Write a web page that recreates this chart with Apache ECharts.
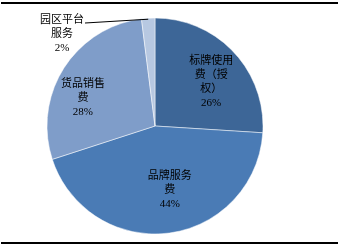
<!DOCTYPE html>
<html><head><meta charset="utf-8">
<script src="https://cdn.jsdelivr.net/npm/echarts@6/dist/echarts.min.js"></script>
<style>html,body{margin:0;padding:0;background:#fff}#c{width:345px;height:246px}</style>
</head><body><div id="c"></div>
<script>
var categories = ['标牌使用费（授权）', '品牌服务费', '货品销售费', '园区平台服务'];
var labelLines = ['标牌使用\n费（授\n权）', '品牌服务\n费', '货品销售\n费', '园区平台\n服务'];
var values = [26, 44, 28, 2];
var colors = ['#3D6697', '#4A7BB5', '#7F9DC9', '#B7C8E1'];
// label anchor (fraction of radius, angle in degrees) per slice
var labelPolar = [[0.66, 38], [0.61, -77], [0.716, 158.7]];

var cx = 155, cy = 126, R = 108;
var chart = echarts.init(document.getElementById('c'));
var data = values.map(function(v, i){
  return {value: v, name: categories[i], itemStyle: {color: colors[i]}};
});
// leader line for the small slice: from slice edge at its mid-angle to label
var total = values.reduce(function(a, b){ return a + b; }, 0);
var before = values.slice(0, 3).reduce(function(a, b){ return a + b; }, 0);
var midDeg = 90 - (before + values[3] / 2) / total * 360;
var ma = midDeg * Math.PI / 180;
var ex = cx + R * Math.cos(ma), ey = cy - R * Math.sin(ma);

var font = "'Liberation Serif', 'Noto Sans CJK SC', serif";
chart.setOption({
  animation: false,
  graphic: [
    {type: 'line', shape: {x1: 1, y1: 3, x2: 338, y2: 3}, style: {stroke: '#000', lineWidth: 2}},
    {type: 'line', shape: {x1: 1, y1: 243, x2: 338, y2: 243}, style: {stroke: '#000', lineWidth: 2}},
    {type: 'line', z: 100, shape: {x1: 85, y1: 23, x2: ex, y2: ey + 1}, style: {stroke: '#000', lineWidth: 1}}
  ],
  series: [{
    type: 'pie',
    center: [cx, cy],
    radius: [0, R],
    startAngle: 90,
    clockwise: true,
    data: data,
    itemStyle: {borderColor: '#fff', borderWidth: 0.5},
    label: {
      show: true, position: 'inside', color: '#000',
      fontFamily: font, fontSize: 11, lineHeight: 14, align: 'center',
      formatter: function(p){ return labelLines[p.dataIndex] + '\n' + p.value + '%'; }
    },
    labelLine: {show: false},
    labelLayout: function(p){
      var i = p.dataIndex;
      if (i === 3) return {x: 62, y: 34, align: 'center', verticalAlign: 'middle'};
      var lp = labelPolar[i];
      var a = lp[1] * Math.PI / 180;
      return {x: cx + lp[0] * R * Math.cos(a), y: cy - lp[0] * R * Math.sin(a), align: 'center', verticalAlign: 'middle'};
    }
  }]
});
</script></body></html>
